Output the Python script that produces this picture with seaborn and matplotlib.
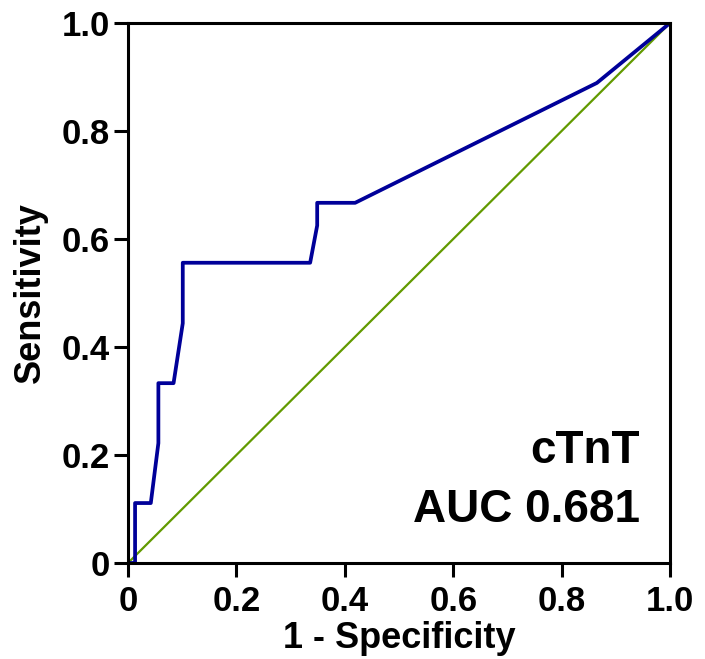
import matplotlib
matplotlib.use("Agg")
import matplotlib.pyplot as plt
import pandas as pd
import seaborn as sns

# ROC curve for cTnT
fpr = [0, 0.013, 0.013, 0.042, 0.056, 0.056, 0.084, 0.101, 0.101,
       0.336, 0.349, 0.349, 0.419, 0.865, 1.0]
tpr = [0, 0, 0.111, 0.111, 0.222, 0.333, 0.333, 0.444, 0.556,
       0.556, 0.625, 0.667, 0.667, 0.889, 1.0]
ref_x = [0, 1]
ref_y = [0, 1]
ticks = [0, 0.2, 0.4, 0.6, 0.8, 1.0]
tick_labels = ["0", "0.2", "0.4", "0.6", "0.8", "1.0"]
marker_name = "cTnT"
auc_text = "AUC 0.681"

sns.set_style("ticks")
plt.rcParams["font.family"] = ["Liberation Sans", "DejaVu Sans"]
plt.rcParams["font.weight"] = "bold"
plt.rcParams["text.color"] = "black"
plt.rcParams["axes.labelcolor"] = "black"
plt.rcParams["xtick.color"] = "black"
plt.rcParams["ytick.color"] = "black"

roc = pd.DataFrame({"fpr": fpr, "tpr": tpr})
ref = pd.DataFrame({"x": ref_x, "y": ref_y})

fig, ax = plt.subplots(figsize=(7.05, 6.59), dpi=100)
fig.subplots_adjust(left=0.1816, right=0.9504, top=0.9651, bottom=0.1457)

sns.lineplot(data=ref, x="x", y="y", color="#629a00", linewidth=1.6,
             sort=False, estimator=None, ax=ax)
sns.lineplot(data=roc, x="fpr", y="tpr", color="#000099", linewidth=2.7,
             sort=False, estimator=None, ax=ax)

ax.set_xlim(0, 1)
ax.set_ylim(0, 1)
ax.set_xticks(ticks)
ax.set_xticklabels(tick_labels)
ax.set_yticks(ticks)
ax.set_yticklabels(tick_labels)
ax.tick_params(axis="both", labelsize=25, width=2.2, length=10,
               direction="out", colors="black", pad=3)
ax.tick_params(axis="x", pad=6)
for lab in ax.get_xticklabels() + ax.get_yticklabels():
    lab.set_fontweight("bold")
for side in ["left", "right", "top", "bottom"]:
    ax.spines[side].set_visible(True)
    ax.spines[side].set_linewidth(2.2)
    ax.spines[side].set_color("black")

ax.set_xlabel("1 - Specificity", fontsize=26, fontweight="bold", labelpad=2)
ax.set_ylabel("Sensitivity", fontsize=26, fontweight="bold", labelpad=10)

ax.text(0.945, 0.185, marker_name, transform=ax.transAxes, ha="right",
        va="baseline", fontsize=33, fontweight="bold")
ax.text(0.945, 0.076, auc_text, transform=ax.transAxes, ha="right",
        va="baseline", fontsize=33, fontweight="bold")

fig.savefig("out.png", dpi=100)
